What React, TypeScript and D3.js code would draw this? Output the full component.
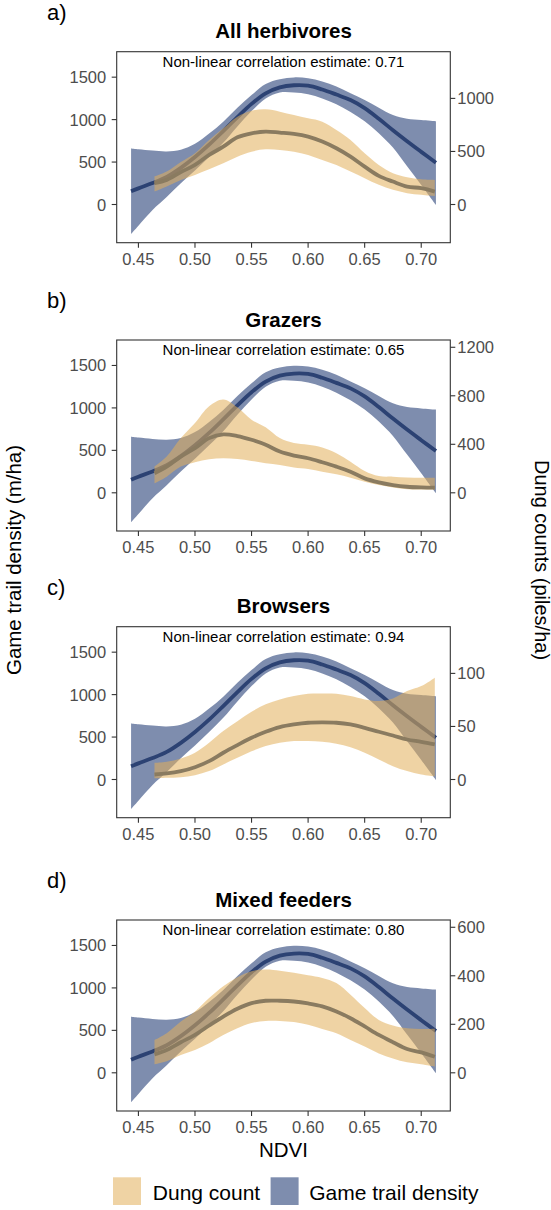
import React from "react";
import * as d3 from "d3";

// ---------- data ----------
const panelLabels = ["a)", "b)", "c)", "d)"];
const panelTitles = ["All herbivores", "Grazers", "Browsers", "Mixed feeders"];
const correlationEstimates = ["0.71", "0.65", "0.94", "0.80"];

const xTicks = [0.45, 0.5, 0.55, 0.6, 0.65, 0.7];
const leftTicks = [0, 500, 1000, 1500];
const rightTicksA = [0, 500, 1000];
const rightTicksB = [0, 400, 800, 1200];
const rightTicksC = [0, 50, 100];
const rightTicksD = [0, 200, 400, 600];
const rightAxisFactors = [0.8, 0.7, 0.08, 0.35];

// Game trail density (m/ha) - same smooth in every panel
const trailNdvi = [0.4435, 0.45, 0.4625, 0.475, 0.4875, 0.5, 0.5125, 0.525, 0.5375, 0.55, 0.5625, 0.575, 0.5875, 0.6, 0.6125, 0.625, 0.6375, 0.65, 0.6625, 0.675, 0.6875, 0.7, 0.713];
const trailFit = [155, 190, 252, 325, 432, 560, 705, 865, 1030, 1185, 1310, 1380, 1405, 1400, 1355, 1295, 1230, 1135, 1010, 875, 745, 620, 492];
const trailUpper = [659, 650, 635, 625, 645, 715, 835, 975, 1140, 1290, 1420, 1476, 1497, 1488, 1450, 1390, 1310, 1231, 1140, 1054, 1010, 994, 980];
const trailLower = [-347, -250, -65, 88, 250, 400, 560, 726, 920, 1100, 1250, 1320, 1320, 1300, 1250, 1180, 1090, 980, 840, 670, 450, 230, -5];

// Dung counts (piles/ha)
const dungNdvi = [0.4642, 0.475, 0.4875, 0.5, 0.5125, 0.525, 0.5375, 0.55, 0.5625, 0.575, 0.5875, 0.6, 0.6125, 0.625, 0.6375, 0.65, 0.6625, 0.675, 0.6875, 0.7, 0.712];
const dungFitA = [201, 232, 305, 373, 467, 545, 633, 671, 687, 677, 665, 640, 593, 530, 451, 357, 270, 216, 169, 154, 122];
const dungUpperA = [263, 310, 400, 483, 608, 718, 828, 884, 897, 875, 843, 812, 781, 702, 608, 483, 373, 295, 257, 238, 232];
const dungLowerA = [122, 169, 230, 279, 332, 389, 451, 498, 520, 514, 498, 467, 420, 373, 310, 248, 185, 138, 107, 91, 78];

const dungFitB = [161, 216, 299, 368, 451, 482, 468, 437, 396, 340, 307, 285, 252, 216, 174, 119, 86, 64, 50, 44, 42];
const dungUpperB = [216, 299, 451, 576, 714, 770, 705, 603, 540, 451, 410, 396, 374, 327, 257, 180, 138, 133, 127, 125, 125];
const dungLowerB = [78, 133, 216, 252, 277, 285, 278, 263, 244, 230, 208, 197, 174, 152, 125, 91, 64, 44, 30, 28, 28];

const dungFitC = [4.7, 5.7, 7.9, 11.6, 17.3, 25.2, 32.4, 39.3, 45, 49.4, 51.9, 53.5, 53.8, 53.5, 51.9, 48.7, 45, 41.5, 37.7, 35.5, 33];
const dungUpperC = [15.7, 16.7, 19.8, 25.2, 34.6, 45.6, 55, 63.8, 70.8, 75.5, 78.6, 80.8, 81.1, 80.8, 78.6, 75.5, 74, 76.4, 83.3, 88, 96];
const dungLowerC = [1, 1.6, 2.2, 4.1, 7.9, 14.2, 20.4, 26.7, 31.5, 34.6, 36.2, 36.2, 35.5, 33.7, 30.5, 25.2, 18.9, 12.6, 7.9, 4.7, 3];

const dungFitD = [76, 94, 126, 156, 195, 232, 264, 287, 297, 297, 294, 286, 274, 253, 225, 191, 156, 126, 98, 84, 66];
const dungUpperD = [135, 163, 211, 253, 308, 357, 394, 419, 426, 421, 412, 402, 391, 370, 322, 267, 218, 195, 184, 181, 182];
const dungLowerD = [35, 48, 73, 94, 122, 156, 184, 205, 214, 214, 209, 198, 181, 163, 135, 108, 80, 59, 43, 35, 25];

const legendLabels = ["Dung count", "Game trail density"];

const panels = [
  { fit: dungFitA, upper: dungUpperA, lower: dungLowerA, rightTicks: rightTicksA },
  { fit: dungFitB, upper: dungUpperB, lower: dungLowerB, rightTicks: rightTicksB },
  { fit: dungFitC, upper: dungUpperC, lower: dungLowerC, rightTicks: rightTicksC },
  { fit: dungFitD, upper: dungUpperD, lower: dungLowerD, rightTicks: rightTicksD },
];

// ---------- styles ----------
const FONT = "'Liberation Sans', Arial, Helvetica, sans-serif";
const TRAIL_FILL = "rgb(40,65,120)";
const TRAIL_ALPHA = 0.6;
const TRAIL_LINE = "#2c4273";
const DUNG_FILL = "rgb(226,175,90)";
const DUNG_ALPHA = 0.55;
const DUNG_LINE = "#8a7b60";
const AXIS = "#333333";
const TICK_TEXT = "#4d4d4d";

export default function App() {
  const W = 551;
  const H = 1210;
  const left = 116.7;
  const right = 450.3;
  const ph = 191;
  const tops = [51.7, 340, 626.7, 920];
  const leftDomain = [-450, 1800];

  const x = d3.scaleLinear().domain([0.4308, 0.7257]).range([left, right]);
  const fmtX = d3.format(".2f");

  return (
    <svg
      width={W}
      height={H}
      viewBox={`0 0 ${W} ${H}`}
      style={{ position: "absolute", left: 0, top: 0, display: "block", background: "#fff" }}
      fontFamily={FONT}
    >
      <rect x={0} y={0} width={W} height={H} fill="#fff" />
      {panels.map((p, i) => {
        const top = tops[i];
        const bottom = top + ph;
        const f = rightAxisFactors[i];
        const yL = d3.scaleLinear().domain(leftDomain).range([bottom, top]);
        const yR = d3.scaleLinear().domain([leftDomain[0] * f, leftDomain[1] * f]).range([bottom, top]);
        const trailArea = d3
          .area<number>()
          .x((_, k) => x(trailNdvi[k]))
          .y0((_, k) => yL(trailLower[k]))
          .y1((_, k) => yL(trailUpper[k]))
          .curve(d3.curveCatmullRom);
        const trailLine = d3
          .line<number>()
          .x((_, k) => x(trailNdvi[k]))
          .y((d) => yL(d))
          .curve(d3.curveCatmullRom);
        const dungArea = d3
          .area<number>()
          .x((_, k) => x(dungNdvi[k]))
          .y0((_, k) => yR(p.lower[k]))
          .y1((_, k) => yR(p.upper[k]))
          .curve(d3.curveCatmullRom);
        const dungLine = d3
          .line<number>()
          .x((_, k) => x(dungNdvi[k]))
          .y((d) => yR(d))
          .curve(d3.curveCatmullRom);
        const clipId = `clip${i}`;
        return (
          <g key={i}>
            <defs>
              <clipPath id={clipId}>
                <rect x={left} y={top} width={right - left} height={ph} />
              </clipPath>
            </defs>
            <text x={47} y={top - 31.7} fontSize={22} fill="#000">
              {panelLabels[i]}
            </text>
            <text x={(left + right) / 2} y={top - 13.4} fontSize={20.5} fontWeight="bold" textAnchor="middle" fill="#000">
              {panelTitles[i]}
            </text>
            <g clipPath={`url(#${clipId})`}>
              <path d={trailArea(trailUpper) || ""} fill={TRAIL_FILL} fillOpacity={TRAIL_ALPHA} />
              <path d={trailLine(trailFit) || ""} fill="none" stroke={TRAIL_LINE} strokeWidth={3.8} />
              <path d={dungArea(p.upper) || ""} fill={DUNG_FILL} fillOpacity={DUNG_ALPHA} />
              <path d={dungLine(p.fit) || ""} fill="none" stroke={DUNG_LINE} strokeWidth={3.8} />
            </g>
            <text x={(left + right) / 2} y={top + 15} fontSize={15} textAnchor="middle" fill="#000">
              {`Non-linear correlation estimate: ${correlationEstimates[i]}`}
            </text>
            <rect x={left} y={top} width={right - left} height={ph} fill="none" stroke={AXIS} strokeWidth={1.1} />
            {leftTicks.map((t) => (
              <g key={`l${t}`}>
                <line x1={left - 5} x2={left} y1={yL(t)} y2={yL(t)} stroke={AXIS} strokeWidth={1.1} />
                <text x={left - 10.5} y={yL(t) + 6} fontSize={16.5} textAnchor="end" fill={TICK_TEXT}>
                  {t}
                </text>
              </g>
            ))}
            {p.rightTicks.map((t) => (
              <g key={`r${t}`}>
                <line x1={right} x2={right + 5} y1={yR(t)} y2={yR(t)} stroke={AXIS} strokeWidth={1.1} />
                <text x={right + 7} y={yR(t) + 6} fontSize={16.5} textAnchor="start" fill={TICK_TEXT}>
                  {t}
                </text>
              </g>
            ))}
            {xTicks.map((t) => (
              <g key={`x${t}`}>
                <line x1={x(t)} x2={x(t)} y1={bottom} y2={bottom + 5} stroke={AXIS} strokeWidth={1.1} />
                <text x={x(t)} y={bottom + 22.3} fontSize={16.5} textAnchor="middle" fill={TICK_TEXT}>
                  {fmtX(t)}
                </text>
              </g>
            ))}
          </g>
        );
      })}
      <text x={(left + right) / 2} y={1156.7} fontSize={20.5} textAnchor="middle" fill="#000">
        NDVI
      </text>
      <text transform="translate(20.5,560) rotate(-90)" fontSize={20.5} textAnchor="middle" fill="#000">
        Game trail density (m/ha)
      </text>
      <text transform="translate(534.5,560) rotate(90)" fontSize={20} textAnchor="middle" fill="#000">
        Dung counts (piles/ha)
      </text>
      <g>
        <rect x={113} y={1177.3} width={28} height={27.7} fill={DUNG_FILL} fillOpacity={DUNG_ALPHA} />
        <text x={152.8} y={1200} fontSize={21} fill="#000">
          {legendLabels[0]}
        </text>
        <rect x={270.6} y={1177.3} width={28} height={27.7} fill={TRAIL_FILL} fillOpacity={TRAIL_ALPHA} />
        <text x={309.2} y={1200} fontSize={21} fill="#000">
          {legendLabels[1]}
        </text>
      </g>
    </svg>
  );
}
